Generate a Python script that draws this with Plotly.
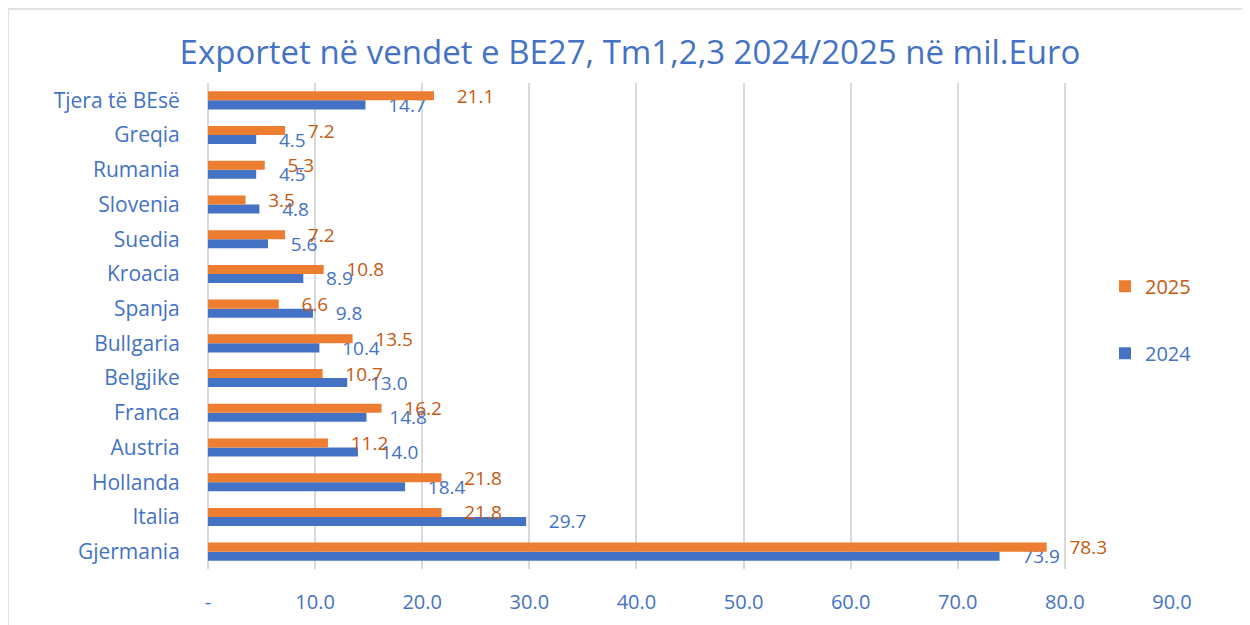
import plotly.graph_objects as go

categories = ["Gjermania", "Italia", "Hollanda", "Austria", "Franca", "Belgjike",
              "Bullgaria", "Spanja", "Kroacia", "Suedia", "Slovenia", "Rumania",
              "Greqia", "Tjera të BEsë"]
values_2024 = [73.9, 29.7, 18.4, 14.0, 14.8, 13.0, 10.4, 9.8, 8.9, 5.6, 4.8, 4.5, 4.5, 14.7]
values_2025 = [78.3, 21.8, 21.8, 11.2, 16.2, 10.7, 13.5, 6.6, 10.8, 7.2, 3.5, 5.3, 7.2, 21.1]
tick_vals = [0, 10, 20, 30, 40, 50, 60, 70, 80, 90]
tick_text = ["-", "10.0", "20.0", "30.0", "40.0", "50.0", "60.0", "70.0", "80.0", "90.0"]

BLUE = "#4472C4"
ORANGE = "#ED7D31"
ORANGE_TXT = "#C55A11"
FONT = "Open Sans"

W, H = 1242, 617
L, T, PW, PH = 200, 75, 964, 486

fig = go.Figure()
fig.add_trace(go.Bar(
    y=categories, x=values_2024, orientation="h", name="<span style='color:%s'>2024</span>" % BLUE,
    marker=dict(color=BLUE, line=dict(width=0)), legendgroup="b", legendrank=2,
    texttemplate="    %{x:.1f}", textposition="outside", cliponaxis=False,
    textfont=dict(color=BLUE, size=19, family=FONT), constraintext="none",
))
fig.add_trace(go.Bar(
    y=categories, x=values_2025, orientation="h", name="<span style='color:%s'>2025</span>" % ORANGE_TXT,
    marker=dict(color=ORANGE, line=dict(width=0)), legendgroup="a", legendrank=1,
    texttemplate="    %{x:.1f}", textposition="outside", cliponaxis=False,
    textfont=dict(color=ORANGE_TXT, size=19, family=FONT), constraintext="none",
))

fig.update_layout(
    width=W, height=H,
    margin=dict(l=L, r=W - L - PW, t=T, b=H - T - PH, autoexpand=False),
    paper_bgcolor="white", plot_bgcolor="white",
    barmode="group", bargap=0.48, bargroupgap=0,
    font=dict(family=FONT, color=BLUE),
    title=dict(text="Exportet në vendet e BE27, Tm1,2,3 2024/2025 në mil.Euro",
               x=(630 - 8) / W, xanchor="center", y=1 - (52 - 8) / H, yanchor="middle",
               font=dict(size=33, color=BLUE, family=FONT)),
    xaxis=dict(range=[0, 90], tickvals=tick_vals, ticktext=tick_text,
               showgrid=True, gridcolor="#D9D9D9", gridwidth=1.5,
               zeroline=True, zerolinecolor="#D9D9D9", zerolinewidth=1.5,
               ticks="outside", ticklen=15, tickcolor="rgba(0,0,0,0)",
               tickfont=dict(size=20, color=BLUE, family=FONT), showline=False),
    yaxis=dict(showgrid=False, ticks="outside", ticklen=23, tickcolor="rgba(0,0,0,0)",
               tickfont=dict(size=21, color=BLUE, family=FONT), showline=False),
    legend=dict(x=0.9305, xanchor="left", y=0.622, yanchor="top",
                traceorder="grouped", tracegroupgap=38,
                font=dict(size=20, family=FONT), bgcolor="rgba(0,0,0,0)"),
    shapes=[dict(type="rect", xref="paper", yref="paper",
                 x0=(0 - L) / PW, x1=(1235 - L) / PW,
                 y0=-0.3, y1=(T + PH - 1) / PH,
                 line=dict(color="#D9D9D9", width=1.5), fillcolor="rgba(0,0,0,0)", layer="below")],
)

fig.write_html("out.html")
